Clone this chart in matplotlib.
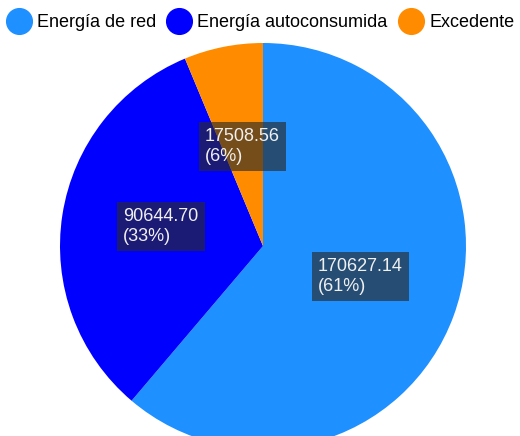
import matplotlib
matplotlib.use("Agg")
import matplotlib.pyplot as plt
from matplotlib.lines import Line2D

labels = ["Energía de red", "Energía autoconsumida", "Excedente"]
values = [170627.14, 90644.70, 17508.56]
colors = ["#1E90FF", "#0000FF", "#FF8C00"]

# label box positions (pixel coords, y from top)
label_pos = [(318, 258), (123, 208), (205, 128)]

plt.rcParams['font.family'] = ['Liberation Sans', 'DejaVu Sans']

W, H = 520, 436
fig = plt.figure(figsize=(W / 100, H / 100), dpi=100)
ax = fig.add_axes([0, 0, 1, 1])

cx, cy, r = 263, 246, 203
wedges, _ = ax.pie(values, colors=colors, startangle=90, counterclock=False,
                   center=(cx, H - cy), radius=r,
                   wedgeprops=dict(linewidth=0))
ax.set_xlim(0, W)
ax.set_ylim(0, H)
ax.set_aspect('equal')
ax.axis('off')

total = sum(values)
for v, (x, y) in zip(values, label_pos):
    pct = v / total * 100
    ax.text(x, H - y, "%.2f\n(%d%%)" % (v, round(pct)), fontsize=13,
            color="#f0f0f0", ha='left', va='top', linespacing=1.2,
            bbox=dict(boxstyle='square,pad=0.35', facecolor=(0.17, 0.17, 0.17),
                      alpha=0.65, edgecolor='none'))

handles = [Line2D([], [], marker='o', linestyle='none', markersize=18.5,
                  markerfacecolor=c, markeredgecolor=c) for c in colors]
ax.legend(handles, labels, loc='upper left', bbox_to_anchor=(6 / W, 1 - 14 / H),
          ncol=3, frameon=False, fontsize=13, handlelength=1.4,
          handletextpad=0.3, columnspacing=0.6, borderpad=0, borderaxespad=0)

fig.savefig("out.png", dpi=100)
